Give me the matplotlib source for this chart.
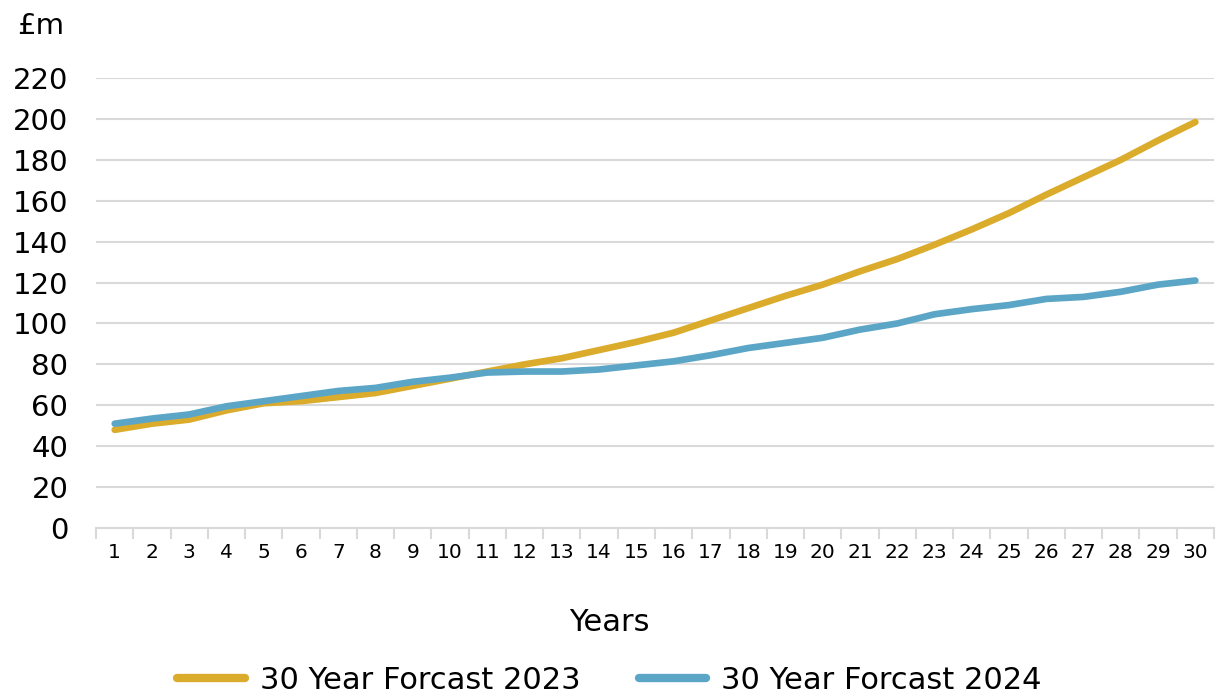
import matplotlib.pyplot as plt
from matplotlib.ticker import FixedLocator

plt.rcParams['font.family'] = ['DejaVu Sans']

years = list(range(1, 31))
forecast_2023 = [48, 51, 53, 57.5, 61, 62, 64, 66, 69.5, 73,
                 76.5, 80, 83, 87, 91, 95.5, 101.5, 107.5, 113.5, 119,
                 125.5, 131.5, 138.5, 146, 154, 163, 171.5, 180, 189.5, 198.5]
forecast_2024 = [51, 53.5, 55.5, 59.5, 62, 64.5, 67, 68.5, 71.5, 73.5,
                 76, 76.5, 76.5, 77.5, 79.5, 81.5, 84.5, 88, 90.5, 93,
                 97, 100, 104.5, 107, 109, 112, 113, 115.5, 119, 121]
y_ticks = list(range(0, 221, 20))

gold = '#DBAB2C'
blue = '#5BA6C7'
grid_col = '#D9D9D9'

fig = plt.figure(figsize=(12.19, 6.97), dpi=100)
ax = fig.add_axes([0.0788, 0.2425, 0.9171, 0.6455])

ax.plot(years, forecast_2023, color=gold, lw=4.8, solid_capstyle='round',
        label='30 Year Forcast 2023')
ax.plot(years, forecast_2024, color=blue, lw=4.8, solid_capstyle='round',
        label='30 Year Forcast 2024')

ax.set_xlim(0.5, 30.5)
ax.set_ylim(0, 220)
ax.set_yticks(y_ticks)
ax.set_xticks(years)
ax.xaxis.set_minor_locator(FixedLocator([i + 0.5 for i in range(0, 31)]))
ax.tick_params(axis='x', which='major', length=0, labelsize=14.5, pad=11)
ax.tick_params(axis='x', which='minor', length=8, width=1.5, color=grid_col)
ax.tick_params(axis='y', length=0, labelsize=21, pad=20)

ax.grid(axis='y', color=grid_col, lw=1.5)
ax.set_axisbelow(True)
for side in ['top', 'right', 'left']:
    ax.spines[side].set_visible(False)
ax.spines['bottom'].set_color(grid_col)
ax.spines['bottom'].set_linewidth(1.5)

fig.text(0.014, 0.963, '£m', fontsize=21, va='center', ha='left')
fig.text(0.5, 0.107, 'Years', fontsize=22, va='center', ha='center')

leg = fig.legend(loc='center', bbox_to_anchor=(0.5, 0.024), ncol=2, frameon=False,
                 fontsize=22, handlelength=2.2, columnspacing=1.9, handletextpad=0.5)
for line in leg.get_lines():
    line.set_linewidth(6)

fig.savefig('out.png', dpi=100)
